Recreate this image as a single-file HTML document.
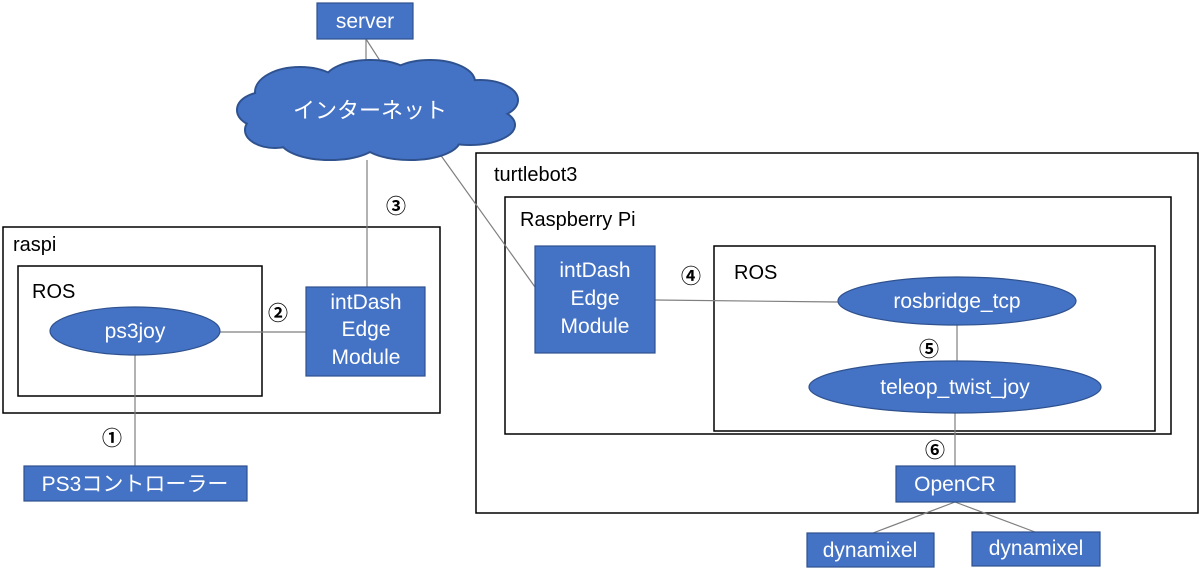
<!DOCTYPE html>
<html><head><meta charset="utf-8"><style>
html,body{margin:0;padding:0;background:#fff;}
svg{display:block}
text{font-family:"Liberation Sans","Noto Sans CJK JP",sans-serif;}
.w{fill:#fff;font-size:21px;text-anchor:middle;}
.b{fill:#000;font-size:20px;}
.n{fill:#000;font-size:20px;text-anchor:middle;font-weight:bold;}
.box{fill:#4472C4;stroke:#2F528F;stroke-width:1.2;}
.fr{fill:none;stroke:#000;stroke-width:1.5;}
.ln{stroke:#7f7f7f;stroke-width:1.2;fill:none;}
</style></head><body>
<svg width="1200" height="579" viewBox="0 0 1200 579">
<rect class="fr" x="3" y="227" width="437" height="186"/>
<rect class="fr" x="18" y="266" width="244" height="130"/>
<rect class="fr" x="476" y="153" width="722" height="360"/>
<rect class="fr" x="505" y="197" width="666" height="237"/>
<rect class="fr" x="714" y="246" width="441" height="185"/>
<text class="b" x="13" y="251">raspi</text>
<text class="b" x="32" y="298">ROS</text>
<text class="b" x="494" y="181">turtlebot3</text>
<text class="b" x="520" y="226">Raspberry Pi</text>
<text class="b" x="734" y="279">ROS</text>
<line class="ln" x1="366" y1="39" x2="366" y2="70"/>
<line class="ln" x1="366" y1="39" x2="386" y2="70"/>
<line class="ln" x1="367" y1="160" x2="367" y2="287"/>
<line class="ln" x1="437" y1="150" x2="535" y2="287"/>
<line class="ln" x1="220" y1="332" x2="306" y2="332"/>
<line class="ln" x1="135" y1="354" x2="135" y2="467"/>
<line class="ln" x1="655" y1="300" x2="838" y2="302"/>
<line class="ln" x1="957" y1="325" x2="957" y2="361"/>
<line class="ln" x1="955" y1="413" x2="955" y2="467"/>
<line class="ln" x1="955" y1="502" x2="873" y2="533"/>
<line class="ln" x1="955" y1="502" x2="1035" y2="532"/>
<g fill="#4472C4" stroke="#2F528F" stroke-width="2">
<ellipse cx="300" cy="92" rx="45" ry="25"/>
<ellipse cx="370" cy="80" rx="45" ry="20"/>
<ellipse cx="430" cy="82" rx="45" ry="22"/>
<ellipse cx="480" cy="100" rx="38" ry="20"/>
<ellipse cx="265" cy="110" rx="28" ry="18"/>
<ellipse cx="275" cy="130" rx="30" ry="18"/>
<ellipse cx="330" cy="140" rx="50" ry="20"/>
<ellipse cx="410" cy="140" rx="50" ry="20"/>
<ellipse cx="470" cy="125" rx="45" ry="20"/>
</g>
<g fill="#4472C4">
<ellipse cx="300" cy="92" rx="44" ry="24"/>
<ellipse cx="370" cy="80" rx="44" ry="19"/>
<ellipse cx="430" cy="82" rx="44" ry="21"/>
<ellipse cx="480" cy="100" rx="37" ry="19"/>
<ellipse cx="265" cy="110" rx="27" ry="17"/>
<ellipse cx="275" cy="130" rx="29" ry="17"/>
<ellipse cx="330" cy="140" rx="49" ry="19"/>
<ellipse cx="410" cy="140" rx="49" ry="19"/>
<ellipse cx="470" cy="125" rx="44" ry="19"/>
<rect x="270" y="90" width="220" height="45"/>
</g>
<text class="w" x="370" y="118" style="font-size:22px">インターネット</text>
<rect class="box" x="317" y="3" width="96" height="36"/>
<text class="w" x="365" y="28">server</text>
<ellipse class="box" cx="135" cy="331" rx="85" ry="24"/>
<text class="w" x="135" y="338">ps3joy</text>
<rect class="box" x="306" y="287" width="119" height="89"/>
<text class="w" x="366" y="309">intDash</text>
<text class="w" x="366" y="336">Edge</text>
<text class="w" x="366" y="364">Module</text>
<rect class="box" x="24" y="466" width="223" height="35"/>
<text class="w" x="135" y="491">PS3コントローラー</text>
<rect class="box" x="535" y="246" width="120" height="107"/>
<text class="w" x="595" y="277">intDash</text>
<text class="w" x="595" y="305">Edge</text>
<text class="w" x="595" y="333">Module</text>
<ellipse class="box" cx="957" cy="301" rx="119" ry="24"/>
<text class="w" x="957" y="308">rosbridge_tcp</text>
<ellipse class="box" cx="955" cy="387" rx="146" ry="26"/>
<text class="w" x="955" y="394">teleop_twist_joy</text>
<rect class="box" x="896" y="466" width="119" height="36"/>
<text class="w" x="955" y="491">OpenCR</text>
<rect class="box" x="807" y="533" width="127" height="34"/>
<text class="w" x="870" y="557">dynamixel</text>
<rect class="box" x="972" y="532" width="128" height="34"/>
<text class="w" x="1036" y="555">dynamixel</text>
<text class="n" x="112" y="445">①</text>
<text class="n" x="278" y="320">②</text>
<text class="n" x="396" y="213">③</text>
<text class="n" x="691" y="283">④</text>
<text class="n" x="929" y="356">⑤</text>
<text class="n" x="935" y="457">⑥</text>
</svg>
</body></html>
